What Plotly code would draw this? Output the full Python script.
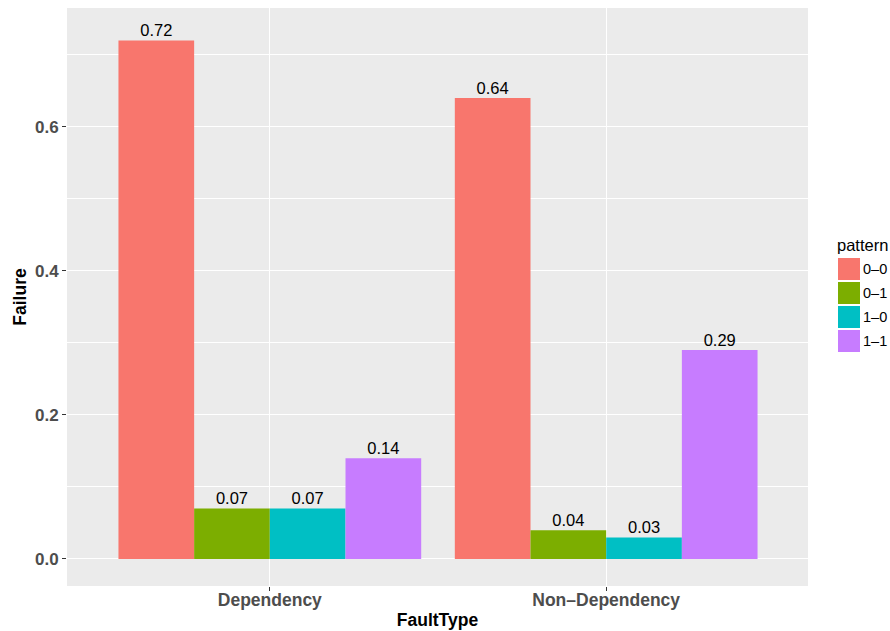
import plotly.graph_objects as go

categories = ["Dependency", "Non-Dependency"]
patterns = ["0\u20130", "0\u20131", "1\u20130", "1\u20131"]
values = {
    "0\u20130": [0.72, 0.64],
    "0\u20131": [0.07, 0.04],
    "1\u20130": [0.07, 0.03],
    "1\u20131": [0.14, 0.29],
}
colors = ["#F8766D", "#7CAE00", "#00BFC4", "#C77CFF"]
tick_vals = [0.0, 0.2, 0.4, 0.6]
tick_text = ["0.0", "0.2", "0.4", "0.6"]
cat_text = ["Dependency", "Non\u2013Dependency"]

FONT = "Liberation Sans, Arial, sans-serif"

fig = go.Figure()
for p, c in zip(patterns, colors):
    fig.add_trace(go.Bar(
        x=categories, y=values[p], name=p, marker=dict(color=c, line=dict(width=0)),
        offsetgroup=p, showlegend=False,
    ))
for p in patterns:
    fig.add_trace(go.Scatter(
        x=categories, y=values[p], mode="text", offsetgroup=p,
        text=[f"{v:.2f}" for v in values[p]], textposition="top center",
        marker=dict(size=2), textfont=dict(family=FONT, size=16.5, color="black"),
        cliponaxis=False, showlegend=False, hoverinfo="skip",
    ))

W, H = 890, 631
ML, MR, MT, MB = 67, 82, 8, 45
PW, PH = W - ML - MR, H - MT - MB


def px(x):
    return (x - ML) / PW


def py(y):
    return (H - MB - y) / PH


# manual ggplot-style legend
lx0, lx1 = 838, 860
ly = [258, 282, 306, 330]
fig.add_annotation(x=px(835), y=py(245), xref="paper", yref="paper",
                   text="pattern", showarrow=False, xanchor="left", yanchor="middle",
                   font=dict(family=FONT, size=16.5, color="black"))
for p, c, y0 in zip(patterns, colors, ly):
    fig.add_shape(type="rect", xref="paper", yref="paper",
                  x0=px(lx0), x1=px(lx1), y0=py(y0), y1=py(y0 + 22),
                  fillcolor=c, line=dict(width=0))
    fig.add_annotation(x=px(lx1 + 1), y=py(y0 + 11), xref="paper", yref="paper",
                       text=p, showarrow=False, xanchor="left", yanchor="middle",
                       font=dict(family=FONT, size=14.5, color="black"))

fig.update_layout(
    width=W, height=H,
    margin=dict(l=ML, r=MR, t=MT, b=MB, autoexpand=False),
    paper_bgcolor="white", plot_bgcolor="#EBEBEB",
    barmode="group", bargap=0.1, bargroupgap=0,
    scattermode="group", scattergap=0.1,
    font=dict(family=FONT),
)
fig.update_xaxes(
    range=[-0.603, 1.6], tickvals=categories, ticktext=cat_text,
    showgrid=True, gridcolor="white", gridwidth=1.2,
    ticks="outside", ticklen=4, tickcolor="#333333", tickwidth=1,
    ticklabelstandoff=-6,
    tickfont=dict(family=FONT, size=17.5, color="#4D4D4D", weight="bold"),
    title=dict(text="FaultType", font=dict(family=FONT, size=17.5, color="black", weight="bold"), standoff=4),
    zeroline=False, showline=False, automargin=False,
)
fig.update_yaxes(
    range=[-0.0375, 0.765], tickvals=tick_vals, ticktext=tick_text,
    showgrid=True, gridcolor="white", gridwidth=1.2,
    minor=dict(tickvals=[0.1, 0.3, 0.5, 0.7], showgrid=True, gridcolor="white", gridwidth=0.6, ticks=""),
    ticks="outside", ticklen=4, tickcolor="#333333", tickwidth=1,
    tickfont=dict(family=FONT, size=17, color="#4D4D4D", weight="bold"),
    title=dict(text="Failure", font=dict(family=FONT, size=17.5, color="black", weight="bold"), standoff=3),
    zeroline=False, showline=False, automargin=False,
)
fig.write_html("out.html", config={"displayModeBar": False},
               post_script="document.body.style.margin='0';")
